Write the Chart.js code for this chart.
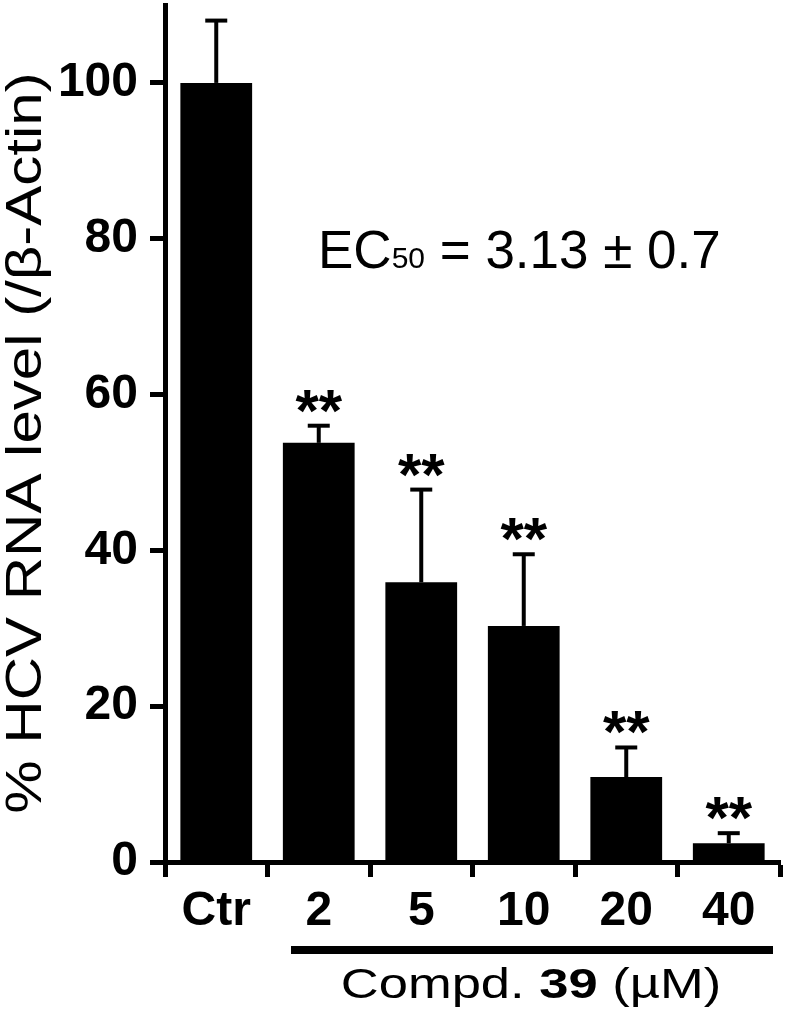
<!DOCTYPE html>
<html><head><meta charset="utf-8">
<script src="https://cdn.jsdelivr.net/npm/chart.js@4"></script>
<style>html,body{margin:0;padding:0;background:#fff}#wrap{width:787px;height:1020px}</style>
</head><body><div id="wrap"><canvas id="c" width="787" height="1020"></canvas></div>
<script>
const categories = ['Ctr', '2', '5', '10', '20', '40'];
const meanValues = [100, 53.8, 35.9, 30.3, 10.9, 2.4];
const sdValues = [8.0, 2.2, 11.9, 9.2, 3.8, 1.3];
const significance = ['', '**', '**', '**', '**', '**'];
const yTicks = [0, 20, 40, 60, 80, 100];
const yTitle = '% HCV RNA level (/\u03B2-Actin)';
const ec50Main = 'EC';
const ec50Sub = '50';
const ec50Rest = ' = 3.13 \u00B1 0.7';
const groupLabelParts = [['Compd. ', 'normal'], ['39', 'bold'], [' (\u00B5M)', 'normal']];

const FAM = '"Liberation Sans", Arial, Helvetica, sans-serif';

const annotations = {
  id: 'annotations',
  afterDatasetsDraw(chart) {
    const ctx = chart.ctx;
    const meta = chart.getDatasetMeta(0);
    const ys = chart.scales.y;
    ctx.save();
    ctx.fillStyle = '#000';
    ctx.strokeStyle = '#000';
    meta.data.forEach((bar, i) => {
      const x = bar.x;
      const yTop = ys.getPixelForValue(meanValues[i]);
      const yCap = ys.getPixelForValue(meanValues[i] + sdValues[i]);
      ctx.lineWidth = 4;
      ctx.beginPath();
      ctx.moveTo(x, yTop);
      ctx.lineTo(x, yCap);
      ctx.stroke();
      ctx.beginPath();
      ctx.moveTo(x - 11, yCap);
      ctx.lineTo(x + 11, yCap);
      ctx.stroke();
      if (significance[i]) {
        ctx.font = 'bold 60px ' + FAM;
        ctx.textAlign = 'center';
        ctx.textBaseline = 'alphabetic';
        const m = ctx.measureText(significance[i]);
        const base = yCap - 2 - 11 - m.actualBoundingBoxDescent;
        ctx.fillText(significance[i], x, base);
      }
    });
    ctx.restore();
  },
  afterDraw(chart) {
    const ctx = chart.ctx;
    ctx.save();
    ctx.fillStyle = '#000';
    ctx.textBaseline = 'alphabetic';
    // EC50 text
    let x = 318;
    const base = 268;
    ctx.textAlign = 'left';
    ctx.font = '53px ' + FAM;
    ctx.fillText(ec50Main, x, base);
    x += ctx.measureText(ec50Main).width;
    ctx.font = '30px ' + FAM;
    ctx.fillText(ec50Sub, x, base);
    x += ctx.measureText(ec50Sub).width;
    ctx.font = '53px ' + FAM;
    ctx.fillText(ec50Rest, x, base);

    // y title (rotated, stretched)
    ctx.save();
    ctx.translate(41, 443);
    ctx.rotate(-Math.PI / 2);
    ctx.scale(1.2, 1);
    ctx.font = '50px ' + FAM;
    ctx.textAlign = 'center';
    ctx.fillText(yTitle, 0, 0);
    ctx.restore();

    // group line
    ctx.fillRect(291, 946, 482, 8);

    // group label
    ctx.save();
    ctx.translate(531, 998);
    ctx.scale(1.25, 1);
    let total = 0;
    const widths = groupLabelParts.map(([t, w]) => {
      ctx.font = w + ' 42px ' + FAM;
      const wd = ctx.measureText(t).width;
      total += wd;
      return wd;
    });
    let gx = -total / 2;
    ctx.textAlign = 'left';
    groupLabelParts.forEach(([t, w], i) => {
      ctx.font = w + ' 42px ' + FAM;
      ctx.fillText(t, gx, 0);
      gx += widths[i];
    });
    ctx.restore();
    ctx.restore();
  }
};

new Chart(document.getElementById('c'), {
  type: 'bar',
  data: {
    labels: categories,
    datasets: [{
      data: meanValues,
      backgroundColor: '#000',
      borderWidth: 0,
      barPercentage: 0.7,
      categoryPercentage: 1.0
    }]
  },
  options: {
    responsive: false,
    animation: false,
    devicePixelRatio: 1,
    layout: { padding: { left: 0, top: 5, right: 7, bottom: 0 } },
    plugins: { legend: { display: false }, tooltip: { enabled: false }, title: { display: false } },
    scales: {
      x: {
        grid: { offset: true, drawOnChartArea: false, drawTicks: true, tickLength: 15, tickWidth: 5, color: '#000' },
        border: { display: true, color: '#000', width: 5 },
        ticks: { font: { family: FAM, size: 48, weight: 'bold' }, color: '#000', padding: 6, maxRotation: 0, autoSkip: false },
        afterFit: s => { s.height = 158; s.paddingLeft = 0; s.paddingRight = 0; }
      },
      y: {
        min: 0, max: 110,
        afterBuildTicks: s => { s.ticks = yTicks.map(v => ({ value: v })); },
        grid: { drawOnChartArea: false, drawTicks: true, tickLength: 15, tickWidth: 5, color: '#000' },
        border: { display: true, color: '#000', width: 5 },
        ticks: { font: { family: FAM, size: 48, weight: 'bold' }, color: '#000', padding: 12 },
        afterFit: s => { s.width = 165; s.paddingTop = 0; s.paddingBottom = 0; }
      }
    }
  },
  plugins: [annotations]
});
</script>
</body></html>
